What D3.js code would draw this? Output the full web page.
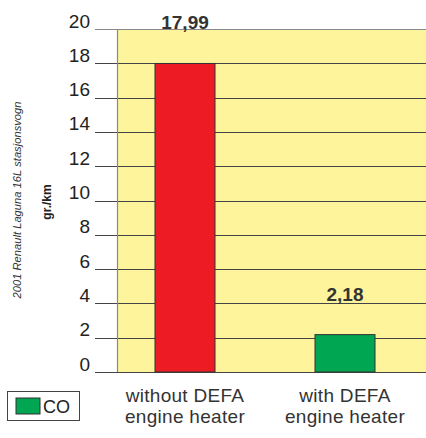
<!DOCTYPE html>
<head lang="en">
<meta charset="utf-8">
<title>CO emissions with and without DEFA engine heater</title>
<style>
body { margin:0; background:#fff; }
* { font-family:"Liberation Sans","Arial",sans-serif; }
</style>
<script src="https://cdn.jsdelivr.net/npm/d3@7/dist/d3.min.js"></script>
</head>
<body>
<div id="chart"></div>
<script>
// data
var categories = [["without DEFA", "engine heater"], ["with DEFA", "engine heater"]];
var coValues = [17.99, 2.18];
var valueLabels = ["17,99", "2,18"];
var barColors = ["#ed1c24", "#00a651"];
var yTicks = [0, 2, 4, 6, 8, 10, 12, 14, 16, 18, 20];

var width = 426, height = 438;
var plotLeft = 117, plotRight = 426, plotTop = 29, plotBottom = 372;

var svg = d3.select("#chart").append("svg")
	.attr("width", width)
	.attr("height", height);

var y = d3.scaleLinear().domain([0, 20]).range([plotBottom, plotTop]);
var x = d3.scalePoint().domain(d3.range(categories.length)).range([105, 425]).padding(0.5);
var barW = 60;

// background
svg.append("rect")
	.attr("x", plotLeft).attr("y", plotTop)
	.attr("width", plotRight - plotLeft).attr("height", plotBottom - plotTop)
	.style("fill", "#fef49c");

// gridlines + tick marks
svg.selectAll("line.grid")
	.data(yTicks)
	.enter()
	.append("line")
		.attr("class", "grid")
		.attr("x1", 95).attr("x2", plotRight)
		.attr("y1", function(d) { return Math.round(y(d)) + 0.5; })
		.attr("y2", function(d) { return Math.round(y(d)) + 0.5; })
		.style("stroke", function(d) { return d == 20 ? "#888" : "#444"; })
		.style("stroke-width", "1px");

svg.append("line")
	.attr("x1", plotLeft + 0.5).attr("x2", plotLeft + 0.5)
	.attr("y1", plotTop).attr("y2", plotBottom)
	.style("stroke", "#888").style("stroke-width", "1.2px");

svg.selectAll("text.tick")
	.data(yTicks)
	.enter()
	.append("text")
		.attr("class", "tick")
		.attr("x", 90)
		.attr("y", function(d) { return y(d) - 1.5; })
		.attr("text-anchor", "end")
		.style("font-size", "19px")
		.style("fill", "#222")
		.text(function(d) { return d; });

// bars
svg.selectAll("rect.bar")
	.data(coValues)
	.enter()
	.append("rect")
		.attr("class", "bar")
		.attr("x", function(d, i) { return x(i) - barW / 2; })
		.attr("y", function(d) { return y(d); })
		.attr("width", barW)
		.attr("height", function(d) { return plotBottom - y(d); })
		.style("fill", function(d, i) { return barColors[i]; })
		.style("stroke", "#333")
		.style("stroke-width", "1px");

svg.selectAll("text.val")
	.data(coValues)
	.enter()
	.append("text")
		.attr("class", "val")
		.attr("x", function(d, i) { return x(i); })
		.attr("y", function(d) { return y(d) - 34; })
		.attr("text-anchor", "middle")
		.style("font-size", "19px")
		.style("font-weight", "bold")
		.style("fill", "#333")
		.text(function(d, i) { return valueLabels[i]; });

// category labels
categories.forEach(function(lines, i) {
	lines.forEach(function(s, j) {
		svg.append("text")
			.attr("x", x(i))
			.attr("y", 402 + j * 21)
			.attr("text-anchor", "middle")
			.style("font-size", "19px")
			.style("letter-spacing", "0.3px")
			.style("fill", "#333")
			.text(s);
	});
});

// axis titles
svg.append("text")
	.attr("transform", "translate(51,202) rotate(-90)")
	.attr("text-anchor", "middle")
	.style("font-size", "12px")
	.style("font-weight", "bold")
	.style("fill", "#222")
	.text("gr./km");

svg.append("text")
	.attr("transform", "translate(21,200) rotate(-90)")
	.attr("text-anchor", "middle")
	.style("font-size", "11.2px")
	.style("font-style", "italic")
	.style("font-family", "'Liberation Sans Narrow','Liberation Sans',sans-serif")
	.style("fill", "#333")
	.text("2001 Renault Laguna 16L stasjonsvogn");

// legend
svg.append("rect")
	.attr("x", 7.5).attr("y", 391.5).attr("width", 72).attr("height", 29)
	.style("fill", "#fff").style("stroke", "#444").style("stroke-width", "1px");
svg.append("rect")
	.attr("x", 16).attr("y", 398).attr("width", 24).attr("height", 16)
	.style("fill", "#00a651").style("stroke", "#333").style("stroke-width", "1px");
svg.append("text")
	.attr("x", 43).attr("y", 413)
	.style("font-size", "18px")
	.style("fill", "#222")
	.text("CO");
</script>
</body>
</html>
